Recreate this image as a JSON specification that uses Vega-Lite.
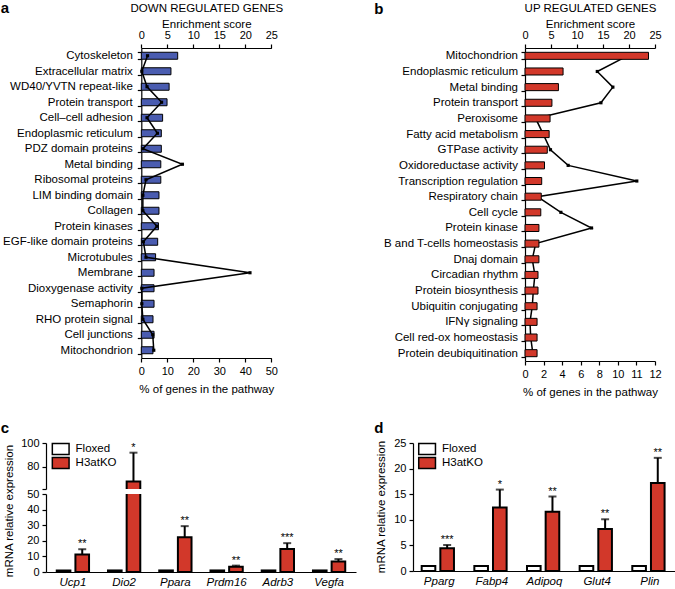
{
"$schema": "https://vega.github.io/schema/vega-lite/v6.json",
"padding": {"left": 0, "top": 0, "right": 0, "bottom": 0},
"background": "white",
"config": {
 "font": "Liberation Sans",
 "view": {"stroke": null},
 "axis": {"grid": false, "domainColor": "black", "domainWidth": 1.2, "tickColor": "black", "tickWidth": 1.2, "tickSize": 4, "labelColor": "black", "titleColor": "black", "labelFontSize": 11.5, "titleFontSize": 11.5, "titleFontWeight": "normal", "labelFont": "Liberation Sans", "titleFont": "Liberation Sans", "labelFlush": false, "labelOverlap": false, "labelBound": false},
 "legend": {"orient": "none", "title": null, "labelFontSize": 11.5, "labelColor": "black", "labelFont": "Liberation Sans", "symbolType": "M-0.93,-0.6H0.93V0.6H-0.93Z", "symbolSize": 324, "symbolStrokeColor": "black", "symbolStrokeWidth": 1.5, "clipHeight": 14, "rowPadding": 0, "labelOffset": 4.9, "padding": 0}
},
"datasets": {
 "down": [
  {"i":0,"cat":"Cytoskeleton","pct":14.0,"enr":1.2},
  {"i":1,"cat":"Extracellular matrix","pct":11.4,"enr":0.1},
  {"i":2,"cat":"WD40/YVTN repeat-like","pct":10.7,"enr":1.1},
  {"i":3,"cat":"Protein transport","pct":9.9,"enr":3.9},
  {"i":4,"cat":"Cell–cell adhesion","pct":8.2,"enr":1.1},
  {"i":5,"cat":"Endoplasmic reticulum","pct":7.7,"enr":3.1},
  {"i":6,"cat":"PDZ domain proteins","pct":7.7,"enr":0.3},
  {"i":7,"cat":"Metal binding","pct":7.5,"enr":7.9},
  {"i":8,"cat":"Ribosomal proteins","pct":7.5,"enr":0.9},
  {"i":9,"cat":"LIM binding domain","pct":6.8,"enr":0.3},
  {"i":10,"cat":"Collagen","pct":6.8,"enr":0.3},
  {"i":11,"cat":"Protein kinases","pct":6.6,"enr":3.0},
  {"i":12,"cat":"EGF-like domain proteins","pct":6.3,"enr":0.4},
  {"i":13,"cat":"Microtubules","pct":5.5,"enr":0.9},
  {"i":14,"cat":"Membrane","pct":4.9,"enr":20.9},
  {"i":15,"cat":"Dioxygenase activity","pct":4.9,"enr":0.1},
  {"i":16,"cat":"Semaphorin","pct":4.9,"enr":0.1},
  {"i":17,"cat":"RHO protein signal","pct":4.5,"enr":0.3},
  {"i":18,"cat":"Cell junctions","pct":4.9,"enr":2.2},
  {"i":19,"cat":"Mitochondrion","pct":4.5,"enr":2.4}
 ],
 "up": [
  {"i":0,"cat":"Mitochondrion","pct":13.3,"enr":19.7},
  {"i":1,"cat":"Endoplasmic reticulum","pct":4.1,"enr":13.9},
  {"i":2,"cat":"Metal binding","pct":3.6,"enr":16.9},
  {"i":3,"cat":"Protein transport","pct":2.9,"enr":14.6},
  {"i":4,"cat":"Peroxisome","pct":2.7,"enr":2.05},
  {"i":5,"cat":"Fatty acid metabolism","pct":2.6,"enr":3.5},
  {"i":6,"cat":"GTPase activity","pct":2.4,"enr":4.9},
  {"i":7,"cat":"Oxidoreductase activity","pct":2.1,"enr":8.3},
  {"i":8,"cat":"Transcription regulation","pct":1.8,"enr":21.5},
  {"i":9,"cat":"Respiratory chain","pct":1.75,"enr":2.4},
  {"i":10,"cat":"Cell cycle","pct":1.7,"enr":6.9},
  {"i":11,"cat":"Protein kinase","pct":1.5,"enr":12.8},
  {"i":12,"cat":"B and T-cells homeostasis","pct":1.5,"enr":2.05},
  {"i":13,"cat":"Dnaj domain","pct":1.5,"enr":1.4},
  {"i":14,"cat":"Circadian rhythm","pct":1.4,"enr":1.9},
  {"i":15,"cat":"Protein biosynthesis","pct":1.4,"enr":1.6},
  {"i":16,"cat":"Ubiquitin conjugating","pct":1.3,"enr":1.4},
  {"i":17,"cat":"IFNγ signaling","pct":1.3,"enr":0.96},
  {"i":18,"cat":"Cell red-ox homeostasis","pct":1.3,"enr":1.1},
  {"i":19,"cat":"Protein deubiquitination","pct":1.3,"enr":1.5}
 ],
 "cdat": [
  {"gene":"Ucp1","group":"Floxed","val":1,"hi":1.1,"star":""},
  {"gene":"Ucp1","group":"H3atKO","val":11.2,"hi":14.6,"star":"**"},
  {"gene":"Dio2","group":"Floxed","val":1,"hi":1.1,"star":""},
  {"gene":"Dio2","group":"H3atKO","val":67.3,"hi":91.8,"star":"*"},
  {"gene":"Ppara","group":"Floxed","val":1,"hi":1.1,"star":""},
  {"gene":"Ppara","group":"H3atKO","val":22.3,"hi":29.4,"star":"**"},
  {"gene":"Prdm16","group":"Floxed","val":1,"hi":1.1,"star":""},
  {"gene":"Prdm16","group":"H3atKO","val":3.4,"hi":4.1,"star":"**"},
  {"gene":"Adrb3","group":"Floxed","val":1,"hi":1.1,"star":""},
  {"gene":"Adrb3","group":"H3atKO","val":14.8,"hi":18.5,"star":"***"},
  {"gene":"Vegfa","group":"Floxed","val":1,"hi":1.1,"star":""},
  {"gene":"Vegfa","group":"H3atKO","val":6.8,"hi":8.3,"star":"**"}
 ],
 "ddat": [
  {"gene":"Pparg","group":"Floxed","val":1,"hi":1.1,"star":""},
  {"gene":"Pparg","group":"H3atKO","val":4.44,"hi":5.1,"star":"***"},
  {"gene":"Fabp4","group":"Floxed","val":1,"hi":1.1,"star":""},
  {"gene":"Fabp4","group":"H3atKO","val":12.4,"hi":15.9,"star":"*"},
  {"gene":"Adipoq","group":"Floxed","val":1,"hi":1.1,"star":""},
  {"gene":"Adipoq","group":"H3atKO","val":11.55,"hi":14.55,"star":"**"},
  {"gene":"Glut4","group":"Floxed","val":1,"hi":1.1,"star":""},
  {"gene":"Glut4","group":"H3atKO","val":8.2,"hi":10.1,"star":"**"},
  {"gene":"Plin","group":"Floxed","val":1,"hi":1.1,"star":""},
  {"gene":"Plin","group":"H3atKO","val":17.2,"hi":22.1,"star":"**"}
 ]
},
"spacing": 22,
"resolve": {"scale": {"fill": "independent"}, "legend": {"fill": "independent"}},
"vconcat": [
 {
  "spacing": 90,
  "resolve": {"scale": {"fill": "independent"}, "legend": {"fill": "independent"}},
  "hconcat": [
   {
    "width": 225.3, "height": 310,
    "data": {"name": "down"},
    "encoding": {
     "y": {"field": "cat", "type": "nominal", "sort": null,
      "scale": {"paddingInner": 0.55, "paddingOuter": 0.275},
      "axis": {"offset": -95.3, "title": "a", "titleAngle": 0, "titleX": -141, "titleY": -36, "titleAlign": "left", "titleBaseline": "alphabetic", "titleFontSize": 15, "titleFontWeight": "bold", "tickBand": "extent", "labelPadding": 5}}
    },
    "layer": [
     {"mark": {"type": "bar", "fill": "#4a5cb0", "stroke": "black", "strokeWidth": 1},
      "encoding": {"x": {"field": "pct", "type": "quantitative", "scale": {"domain": [0, 50], "range": [95.3, 225.3]},
        "axis": {"orient": "bottom", "values": [0,10,20,30,40,50], "title": "% of genes in the pathway", "labelFontSize": 11, "labelPadding": 3, "titlePadding": 7}}}},
     {"mark": {"type": "line", "color": "black", "strokeWidth": 1.5, "point": {"shape": "square", "size": 10, "filled": true, "color": "black"}},
      "encoding": {"x": {"field": "enr", "type": "quantitative", "scale": {"domain": [0, 25], "range": [95.3, 225.3]},
        "axis": {"orient": "top", "values": [0,5,10,15,20,25], "title": ["DOWN REGULATED GENES", "Enrichment score"], "titleLineHeight": 16, "labelFontSize": 11, "labelPadding": 4, "titlePadding": 0}},
       "order": {"field": "i", "type": "quantitative"}}}
    ],
    "resolve": {"scale": {"x": "independent"}, "axis": {"x": "independent"}}
   },
   {
    "width": 130, "height": 313,
    "data": {"name": "up"},
    "encoding": {
     "y": {"field": "cat", "type": "nominal", "sort": null,
      "scale": {"paddingInner": 0.55, "paddingOuter": 0.275},
      "axis": {"title": "b", "titleAngle": 0, "titleX": -151.3, "titleY": -34.5, "titleAlign": "left", "titleBaseline": "alphabetic", "titleFontSize": 15, "titleFontWeight": "bold", "tickBand": "extent", "labelPadding": 3.5}}
    },
    "layer": [
     {"mark": {"type": "line", "color": "black", "strokeWidth": 1.5, "point": {"shape": "square", "size": 10, "filled": true, "color": "black"}},
      "encoding": {"x": {"field": "enr", "type": "quantitative", "scale": {"domain": [0, 25]},
        "axis": {"orient": "top", "values": [0,5,10,15,20,25], "title": ["UP REGULATED GENES", "Enrichment score"], "titleLineHeight": 16, "labelFontSize": 11, "labelPadding": 4, "titlePadding": 0}},
       "order": {"field": "i", "type": "quantitative"}}},
     {"mark": {"type": "bar", "fill": "#d2382a", "stroke": "black", "strokeWidth": 1},
      "encoding": {"x": {"field": "pct", "type": "quantitative", "scale": {"domain": [0, 14]},
        "axis": {"orient": "bottom", "values": [0,2,4,6,8,10,12,14], "labelExpr": "datum.value == 12 ? '11' : datum.value == 14 ? '12' : datum.label", "title": "% of genes in the pathway", "labelFontSize": 11, "labelPadding": 3, "titlePadding": 7}}}}
    ],
    "resolve": {"scale": {"x": "independent"}, "axis": {"x": "independent"}}
   }
  ]
 },
 {
  "spacing": 17,
  "resolve": {"scale": {"fill": "independent"}, "legend": {"fill": "independent"}},
  "hconcat": [
   {
    "spacing": 5,
    "bounds": "flush",
    "resolve": {"scale": {"fill": "independent"}, "legend": {"fill": "independent"}},
    "vconcat": [
     {
      "width": 310, "height": 46,
      "data": {"name": "cdat"},
      "encoding": {
       "x": {"field": "gene", "type": "nominal", "sort": null, "scale": {"domain": ["Ucp1","Dio2","Ppara","Prdm16","Adrb3","Vegfa"], "paddingInner": 0.37, "paddingOuter": 0.21}, "axis": null},
       "xOffset": {"field": "group", "type": "nominal", "scale": {"domain": ["Floxed","H3atKO"], "paddingInner": 0.27}}
      },
      "layer": [
       {"mark": {"type": "bar", "stroke": "black", "strokeWidth": 2, "clip": true},
        "encoding": {
         "y": {"field": "val", "type": "quantitative", "scale": {"domain": [61, 100]},
          "axis": {"values": [61, 80, 100], "labelExpr": "datum.value == 61 ? '' : datum.label", "labelFontSize": 11, "labelPadding": 3, "title": "c", "titleAngle": 0, "titleX": -45.7, "titleY": -11, "titleAlign": "left", "titleBaseline": "alphabetic", "titleFontSize": 15, "titleFontWeight": "bold"}},
         "fill": {"field": "group", "type": "nominal", "scale": {"domain": ["Floxed","H3atKO"], "range": ["white", "#d2382a"]}, "legend": {"legendX": 4.7, "legendY": -1}}
        }},
       {"transform": [{"filter": "datum.group === 'H3atKO' && datum.val >= 61"}],
        "mark": {"type": "rule", "strokeWidth": 2, "color": "black"},
        "encoding": {"y": {"field": "val", "type": "quantitative", "scale": {"domain": [61, 100]},
          "axis": {"values": [61, 80, 100], "labelExpr": "datum.value == 61 ? '' : datum.label", "labelFontSize": 11, "labelPadding": 3, "title": "c", "titleAngle": 0, "titleX": -45.7, "titleY": -11, "titleAlign": "left", "titleBaseline": "alphabetic", "titleFontSize": 15, "titleFontWeight": "bold"}}, "y2": {"field": "hi"}}},
       {"transform": [{"filter": "datum.group === 'H3atKO' && datum.val >= 61"}],
        "mark": {"type": "tick", "size": 8, "thickness": 2, "color": "black"},
        "encoding": {"y": {"field": "hi", "type": "quantitative", "scale": {"domain": [61, 100]},
          "axis": {"values": [61, 80, 100], "labelExpr": "datum.value == 61 ? '' : datum.label", "labelFontSize": 11, "labelPadding": 3, "title": "c", "titleAngle": 0, "titleX": -45.7, "titleY": -11, "titleAlign": "left", "titleBaseline": "alphabetic", "titleFontSize": 15, "titleFontWeight": "bold"}}}},
       {"transform": [{"filter": "datum.group === 'H3atKO' && datum.val >= 61"}],
        "mark": {"type": "text", "baseline": "bottom", "fontSize": 11, "color": "black"},
        "encoding": {"y": {"field": "hi", "type": "quantitative", "scale": {"domain": [61, 100]},
          "axis": {"values": [61, 80, 100], "labelExpr": "datum.value == 61 ? '' : datum.label", "labelFontSize": 11, "labelPadding": 3, "title": "c", "titleAngle": 0, "titleX": -45.7, "titleY": -11, "titleAlign": "left", "titleBaseline": "alphabetic", "titleFontSize": 15, "titleFontWeight": "bold"}}, "text": {"field": "star"}}}
      ]
     },
     {
      "width": 310, "height": 78,
      "data": {"name": "cdat"},
      "encoding": {
       "x": {"field": "gene", "type": "nominal", "sort": null, "scale": {"domain": ["Ucp1","Dio2","Ppara","Prdm16","Adrb3","Vegfa"], "paddingInner": 0.37, "paddingOuter": 0.21},
        "axis": {"title": null, "ticks": false, "tickSize": 0, "labelPadding": 4, "labelAngle": 0, "labelFontStyle": "italic"}},
       "xOffset": {"field": "group", "type": "nominal", "scale": {"domain": ["Floxed","H3atKO"], "paddingInner": 0.27}}
      },
      "layer": [
       {"mark": {"type": "bar", "stroke": "black", "strokeWidth": 2, "clip": true},
        "encoding": {
         "y": {"field": "val", "type": "quantitative", "scale": {"domain": [0, 50]},
          "axis": {"values": [0,10,20,30,40,50], "labelFontSize": 11, "labelPadding": 3, "title": "mRNA relative expression", "titleAngle": -90, "titleX": -37, "titleY": 16.5, "titleAlign": "center", "titleBaseline": "middle"}},
         "fill": {"condition": {"test": "datum.group === 'Floxed'", "value": "white"}, "value": "#d2382a"}
        }},
       {"transform": [{"filter": "datum.group === 'H3atKO' && datum.hi <= 50"}],
        "mark": {"type": "rule", "strokeWidth": 2, "color": "black"},
        "encoding": {"y": {"field": "val", "type": "quantitative", "scale": {"domain": [0, 50]},
          "axis": {"values": [0,10,20,30,40,50], "labelFontSize": 11, "labelPadding": 3, "title": "mRNA relative expression", "titleAngle": -90, "titleX": -37, "titleY": 16.5, "titleAlign": "center", "titleBaseline": "middle"}}, "y2": {"field": "hi"}}},
       {"transform": [{"filter": "datum.group === 'H3atKO' && datum.hi <= 50"}],
        "mark": {"type": "tick", "size": 8, "thickness": 2, "color": "black"},
        "encoding": {"y": {"field": "hi", "type": "quantitative", "scale": {"domain": [0, 50]},
          "axis": {"values": [0,10,20,30,40,50], "labelFontSize": 11, "labelPadding": 3, "title": "mRNA relative expression", "titleAngle": -90, "titleX": -37, "titleY": 16.5, "titleAlign": "center", "titleBaseline": "middle"}}}},
       {"transform": [{"filter": "datum.group === 'H3atKO' && datum.hi <= 50"}],
        "mark": {"type": "text", "baseline": "bottom", "fontSize": 11, "color": "black"},
        "encoding": {"y": {"field": "hi", "type": "quantitative", "scale": {"domain": [0, 50]},
          "axis": {"values": [0,10,20,30,40,50], "labelFontSize": 11, "labelPadding": 3, "title": "mRNA relative expression", "titleAngle": -90, "titleX": -37, "titleY": 16.5, "titleAlign": "center", "titleBaseline": "middle"}}, "text": {"field": "star"}}}
      ]
     }
    ]
   },
   {
    "width": 263, "height": 128,
    "data": {"name": "ddat"},
    "encoding": {
     "x": {"field": "gene", "type": "nominal", "sort": null, "scale": {"domain": ["Pparg","Fabp4","Adipoq","Glut4","Plin"], "paddingInner": 0.335, "paddingOuter": 0.165},
      "axis": {"title": "d", "titleX": -39.3, "titleY": -139, "titleAngle": 0, "titleAlign": "left", "titleBaseline": "alphabetic", "titleFontSize": 15, "titleFontWeight": "bold", "ticks": false, "tickSize": 0, "labelPadding": 4, "labelAngle": 0, "labelFontStyle": "italic"}},
     "xOffset": {"field": "group", "type": "nominal", "scale": {"domain": ["Floxed","H3atKO"], "paddingInner": 0.25}}
    },
    "layer": [
     {"mark": {"type": "bar", "stroke": "black", "strokeWidth": 2},
      "encoding": {
       "y": {"field": "val", "type": "quantitative", "scale": {"domain": [0, 25]},
        "axis": {"values": [0,5,10,15,20,25], "labelFontSize": 11, "labelPadding": 3, "title": "mRNA relative expression", "titleAngle": -90, "titleX": -32, "titleY": 63.5, "titleAlign": "center", "titleBaseline": "middle"}},
       "fill": {"field": "group", "type": "nominal", "scale": {"domain": ["Floxed","H3atKO"], "range": ["white", "#d2382a"]}, "legend": {"legendX": 4.1, "legendY": -1}}
      }},
     {"transform": [{"filter": "datum.group === 'H3atKO'"}],
      "mark": {"type": "rule", "strokeWidth": 2, "color": "black"},
      "encoding": {"y": {"field": "val", "type": "quantitative", "scale": {"domain": [0, 25]},
        "axis": {"values": [0,5,10,15,20,25], "labelFontSize": 11, "labelPadding": 3, "title": "mRNA relative expression", "titleAngle": -90, "titleX": -32, "titleY": 63.5, "titleAlign": "center", "titleBaseline": "middle"}}, "y2": {"field": "hi"}}},
     {"transform": [{"filter": "datum.group === 'H3atKO'"}],
      "mark": {"type": "tick", "size": 8, "thickness": 2, "color": "black"},
      "encoding": {"y": {"field": "hi", "type": "quantitative", "scale": {"domain": [0, 25]},
        "axis": {"values": [0,5,10,15,20,25], "labelFontSize": 11, "labelPadding": 3, "title": "mRNA relative expression", "titleAngle": -90, "titleX": -32, "titleY": 63.5, "titleAlign": "center", "titleBaseline": "middle"}}}},
     {"transform": [{"filter": "datum.group === 'H3atKO'"}],
      "mark": {"type": "text", "baseline": "bottom", "fontSize": 11, "color": "black"},
      "encoding": {"y": {"field": "hi", "type": "quantitative", "scale": {"domain": [0, 25]},
        "axis": {"values": [0,5,10,15,20,25], "labelFontSize": 11, "labelPadding": 3, "title": "mRNA relative expression", "titleAngle": -90, "titleX": -32, "titleY": 63.5, "titleAlign": "center", "titleBaseline": "middle"}}, "text": {"field": "star"}}}
    ]
   }
  ]
 }
]
}
